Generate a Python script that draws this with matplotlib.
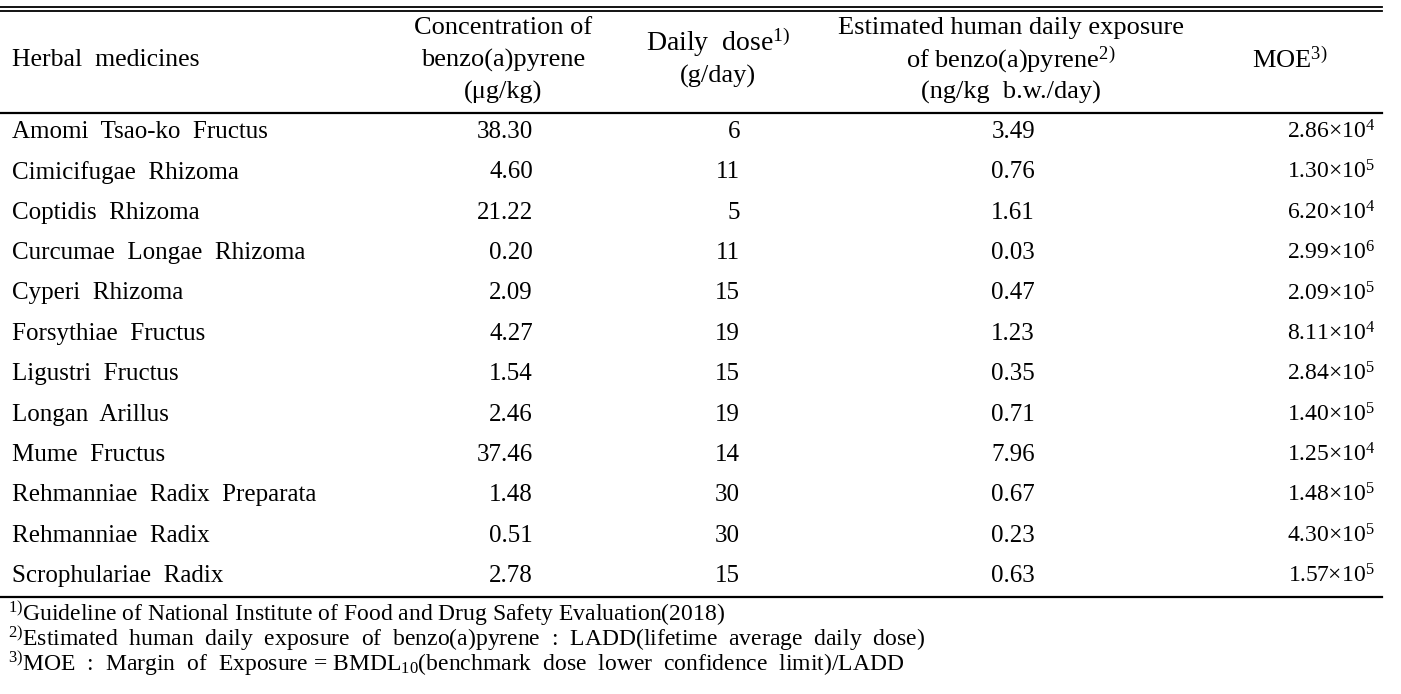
import matplotlib.pyplot as plt

plt.rcParams['font.family'] = ['Liberation Serif', 'DejaVu Serif']
plt.rcParams['mathtext.fontset'] = 'custom'
plt.rcParams['mathtext.rm'] = 'Liberation Serif'
plt.rcParams['mathtext.it'] = 'Liberation Serif:italic'

# table data (double spaces follow the wide word spacing of the original)
herbs = ['Amomi  Tsao-ko  Fructus', 'Cimicifugae  Rhizoma', 'Coptidis  Rhizoma',
         'Curcumae  Longae  Rhizoma', 'Cyperi  Rhizoma', 'Forsythiae  Fructus',
         'Ligustri  Fructus', 'Longan  Arillus', 'Mume  Fructus',
         'Rehmanniae  Radix  Preparata', 'Rehmanniae  Radix', 'Scrophulariae  Radix']
concentration = ['38.30', '4.60', '21.22', '0.20', '2.09', '4.27',
                 '1.54', '2.46', '37.46', '1.48', '0.51', '2.78']
daily_dose = [6, 11, 5, 11, 15, 19, 15, 19, 14, 30, 30, 15]
exposure = ['3.49', '0.76', '1.61', '0.03', '0.47', '1.23',
            '0.35', '0.71', '7.96', '0.67', '0.23', '0.63']
moe_mant = ['2.86', '1.30', '6.20', '2.99', '2.09', '8.11',
            '2.84', '1.40', '1.25', '1.48', '4.30', '1.57']
moe_exp = [4, 5, 4, 6, 5, 4, 5, 5, 4, 5, 5, 5]

footnotes = [
    r'$^{1)}$Guideline of National Institute of Food and Drug Safety Evaluation(2018)',
    r'$^{2)}$Estimated  human  daily  exposure  of  benzo(a)pyrene  :  LADD(lifetime  average  daily  dose)',
    r'$^{3)}$MOE  :  Margin  of  Exposure = BMDL$_{10}$(benchmark  dose  lower  confidence  limit)/LADD',
]

W, H = 1401, 694
fig = plt.figure(figsize=(W / 100, H / 100), dpi=100)
ax = fig.add_axes([0, 0, 1, 1])
ax.set_xlim(0, W)
ax.set_ylim(H, 0)
ax.axis('off')

fs = 18
hfs = 19

# rules
ax.plot([0, 1382], [6.7, 6.7], color='black', lw=1.3)
ax.plot([0, 1382], [11.3, 11.3], color='black', lw=1.3)
ax.plot([0, 1382], [113, 113], color='black', lw=1.6)
ax.plot([0, 1382], [597, 597], color='black', lw=1.6)

# header
ax.text(12, 60, 'Herbal  medicines', fontsize=hfs - 0.5, ha='left', va='center')
for y, s in zip([28, 60, 92], ['Concentration of', 'benzo(a)pyrene', '(μg/kg)']):
    ax.text(503, y, s, fontsize=hfs, ha='center', va='center')
ax.text(718, 42, r'Daily  dose$^{1)}$', fontsize=20, ha='center', va='center')
ax.text(718, 76, '(g/day)', fontsize=hfs, ha='center', va='center')
for y, s in zip([28, 60, 92], ['Estimated human daily exposure',
                               r'of benzo(a)pyrene$^{2)}$', '(ng/kg  b.w./day)']):
    ax.text(1011, y, s, fontsize=hfs, ha='center', va='center')
ax.text(1290, 60, r'MOE$^{3)}$', fontsize=hfs, ha='center', va='center')

# body rows
y0, dy = 132, 40.36
for i, name in enumerate(herbs):
    y = y0 + i * dy
    ax.text(12, y, name, fontsize=fs, ha='left', va='center')
    ax.text(533, y, concentration[i], fontsize=fs, ha='right', va='center')
    ax.text(740, y, str(daily_dose[i]), fontsize=fs, ha='right', va='center')
    ax.text(1035, y, exposure[i], fontsize=fs, ha='right', va='center')
    ax.text(1331, y, moe_mant[i] + r'×10$^{%d}$' % moe_exp[i], fontsize=fs - 1,
            ha='center', va='center')

# footnotes
for i, s in enumerate(footnotes):
    ax.text(8, 614 + i * 25, s, fontsize=17, ha='left', va='center')

fig.savefig('out.png', dpi=100)
